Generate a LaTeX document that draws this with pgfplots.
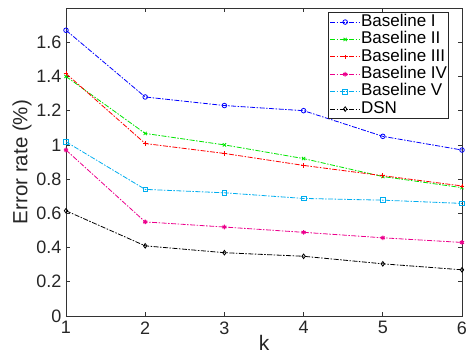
\documentclass[border=0pt]{standalone}
\usepackage{pgfplots}
\pgfplotsset{compat=1.18}
\usepackage{fontspec}
\setmainfont{Liberation Sans}
\begin{document}
\begin{tikzpicture}
\begin{axis}[
  scale only axis,
  width=396pt, height=308pt,
  xmin=1, xmax=6, ymin=0, ymax=1.8,
  xtick={1,2,3,4,5,6},
  ytick={0,0.2,0.4,0.6,0.8,1,1.2,1.4,1.6},
  yticklabels={0,0.2,0.4,0.6,0.8,1,1.2,1.4,1.6},
  tick align=inside,
  major tick length=4pt,
  axis line style={black!80, line width=0.7pt},
  tick style={black!80, line width=0.7pt},
  ticklabel style={font=\fontsize{18}{21}\selectfont, text=black!85},
  yticklabel style={xshift=-1pt},
  xticklabel style={yshift=-2pt},
  /pgf/number format/assume math mode=true,
  xlabel={k}, ylabel={Error rate (\%)},
  xlabel style={font=\fontsize{21}{24}\selectfont, text=black!85, yshift=6pt},
  ylabel style={font=\fontsize{20.5}{24}\selectfont, text=black!85, yshift=-2pt},
  legend style={at={(0.967,0.987)}, anchor=north east, draw=black!85, line width=0.7pt,
    font=\fontsize{17}{19}\selectfont, row sep=0pt, inner sep=1pt,
    nodes={inner sep=0.5pt, text height=12.4pt, text depth=4pt}},
  legend cell align=left,
  legend image code/.code={\draw[mark repeat=2,mark phase=2,#1] plot coordinates {(0pt,0pt)(15pt,0pt)(30pt,0pt)};},
  every axis plot/.append style={line width=0.8pt, dash pattern=on 5pt off 1.5pt on 1.5pt off 1.5pt, mark size=2.3pt, mark options={solid}},
]
\coordinate (O) at (rel axis cs:0,0);
\addplot[blue, mark=o] coordinates {(1,1.67)(2,1.28)(3,1.23)(4,1.20)(5,1.05)(6,0.97)};
\addlegendentry{Baseline I}
\addplot[green!90!black, mark=x] coordinates {(1,1.40)(2,1.067)(3,1.00)(4,0.92)(5,0.815)(6,0.75)};
\addlegendentry{Baseline II}
\addplot[red, mark=+] coordinates {(1,1.417)(2,1.008)(3,0.95)(4,0.88)(5,0.82)(6,0.76)};
\addlegendentry{Baseline III}
\addplot[magenta, mark=asterisk, mark options={solid, line width=1.1pt}] coordinates {(1,0.97)(2,0.55)(3,0.52)(4,0.489)(5,0.457)(6,0.43)};
\addlegendentry{Baseline IV}
\addplot[cyan, mark=square] coordinates {(1,1.018)(2,0.74)(3,0.72)(4,0.687)(5,0.677)(6,0.658)};
\addlegendentry{Baseline V}
\addplot[black, mark=diamond] coordinates {(1,0.615)(2,0.41)(3,0.37)(4,0.349)(5,0.305)(6,0.27)};
\addlegendentry{DSN}
\end{axis}
\pgfresetboundingbox
\path[use as bounding box] ([xshift=-66pt,yshift=-44pt]O) rectangle ++(468pt,360pt);
\end{tikzpicture}
\end{document}
